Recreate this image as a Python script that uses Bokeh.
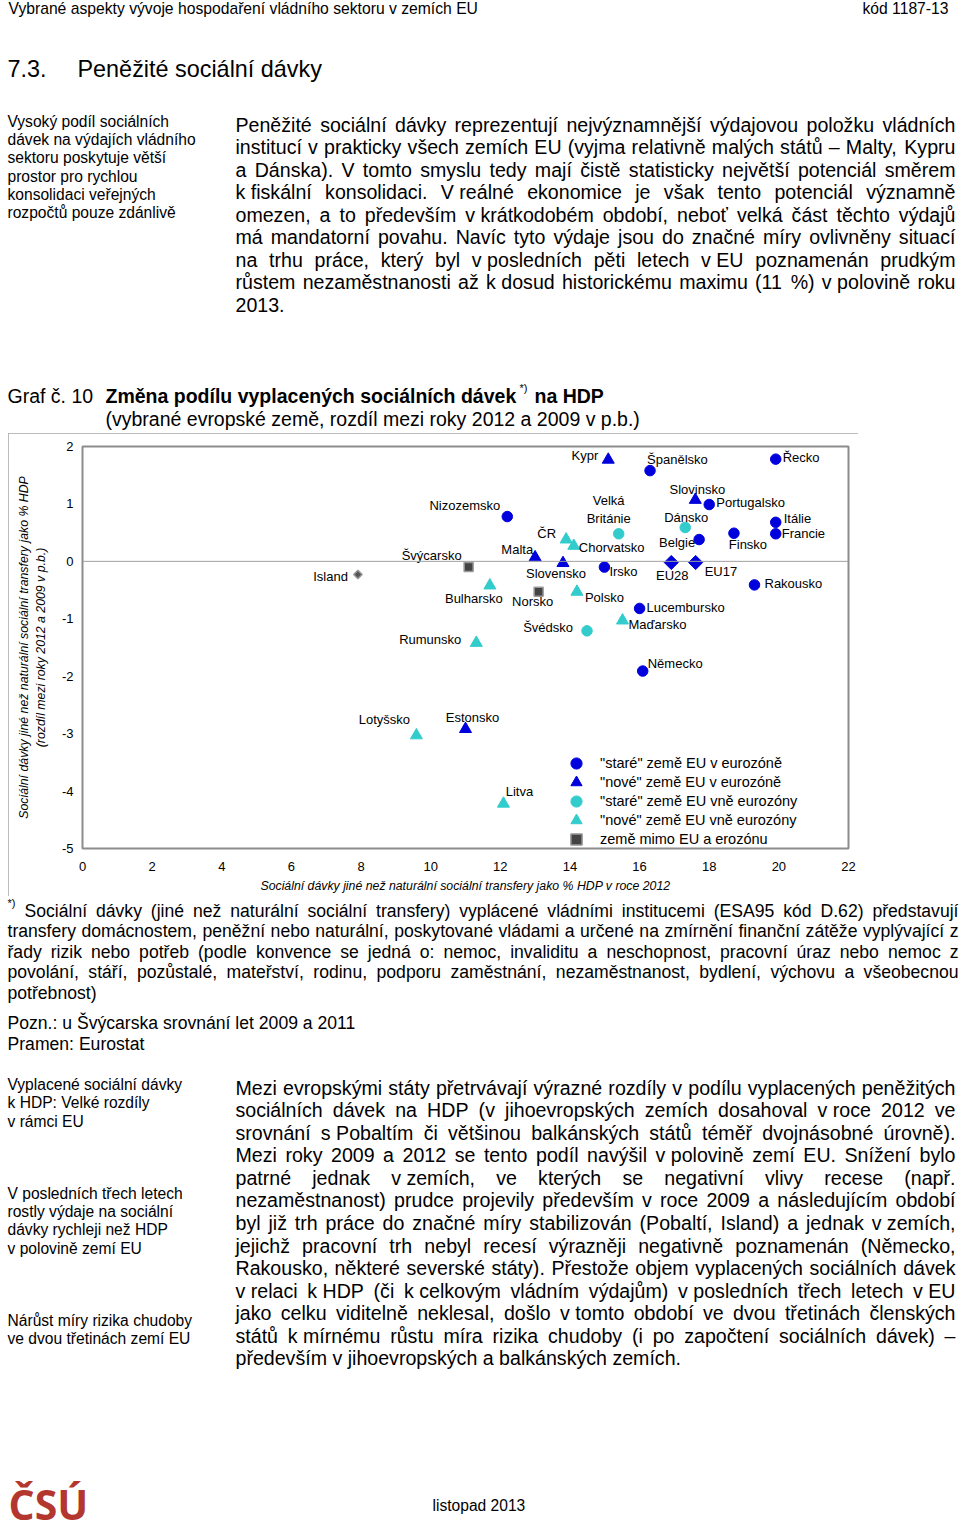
import math
import unicodedata
from bokeh.plotting import figure
from bokeh.models import Range1d, Span, Legend, LegendItem, PrintfTickFormatter
from bokeh.core.properties import value
from bokeh.embed import file_html
from bokeh.resources import INLINE

# ---------------- chart data ----------------
countries = ["Island", "Švýcarsko", "Nizozemsko", "Bulharsko", "Norsko", "ČR", "Chorvatsko",
             "Malta", "Slovensko", "Polsko", "Švédsko", "Rumunsko", "Kypr", "Španělsko",
             "Řecko", "Slovinsko", "Portugalsko", "Velká\nBritánie", "Dánsko", "Belgie",
             "Finsko", "Itálie", "Francie", "EU28", "EU17", "Irsko", "Rakousko",
             "Lucembursko", "Maďarsko", "Německo", "Lotyšsko", "Estonsko", "Litva"]
benefits_2012 = [7.91, 11.09, 12.20, 11.70, 13.10, 13.89, 14.11,
                 13.00, 13.80, 14.20, 14.49, 11.31, 15.10, 16.30,
                 19.91, 17.60, 18.00, 15.40, 17.31, 17.71,
                 18.71, 19.91, 19.91, 16.91, 17.61, 14.99, 19.30,
                 16.00, 15.51, 16.09, 9.59, 11.00, 12.09]
change_2009_2012 = [-0.23, -0.10, 0.78, -0.42, -0.53, 0.38, 0.27,
                    0.07, -0.03, -0.53, -1.21, -1.42, 1.77, 1.58,
                    1.78, 1.07, 0.99, 0.48, 0.59, 0.38,
                    0.49, 0.68, 0.48, -0.02, -0.02, -0.10, -0.41,
                    -0.82, -1.03, -1.91, -3.03, -2.92, -4.22]
groups = ["nonEU_d", "nonEU", "oldEZ", "newOut", "nonEU", "newOut", "newOut",
          "newEZ", "newEZ", "newOut", "oldOut", "newOut", "newEZ", "oldEZ",
          "oldEZ", "newEZ", "oldEZ", "oldOut", "oldOut", "oldEZ",
          "oldEZ", "oldEZ", "oldEZ", "EU", "EU", "oldEZ", "oldEZ",
          "oldEZ", "newOut", "oldEZ", "newOut", "newEZ", "newOut"]
legend_groups = ["oldEZ", "newEZ", "oldOut", "newOut", "nonEU"]
legend_labels = ['"staré" země EU v eurozóně', '"nové" země EU v eurozóně',
                 '"staré" země EU vně eurozóny', '"nové" země EU vně eurozóny',
                 'země mimo EU a erozónu']
x_ticks = [0, 2, 4, 6, 8, 10, 12, 14, 16, 18, 20, 22]
y_ticks = [-5, -4, -3, -2, -1, 0, 1, 2]
x_title = "Sociální dávky jiné než naturální sociální transfery jako % HDP v roce 2012"
y_title = ("Sociální dávky jiné než naturální sociální transfery jako % HDP\n"
           "(rozdíl mezi roky 2012 a 2009 v p.b.)")

# label placement (screen px offsets, alignment) - styling only
label_pos = {
    "Island": (-10, 2, "right"), "Švýcarsko": (-7, -12, "right"), "Nizozemsko": (-7, -11, "right"),
    "Bulharsko": (-16, 13, "center"), "Norsko": (-6, 10, "center"), "ČR": (-10, -6, "right"),
    "Chorvatsko": (5, 2, "left"), "Malta": (-2, -8, "right"), "Slovensko": (-7, 10, "center"),
    "Polsko": (8, 6, "left"), "Švédsko": (-14, -3, "right"), "Rumunsko": (-15, -3, "right"),
    "Kypr": (-10, -4, "right"), "Španělsko": (-3, -11, "left"), "Řecko": (7, -2, "left"),
    "Slovinsko": (2, -10, "center"), "Portugalsko": (7, -2, "left"),
    "Velká\nBritánie": (-10, -24, "center"), "Dánsko": (1, -10, "center"),
    "Belgie": (-4, 3, "right"), "Finsko": (14, 11, "center"), "Itálie": (8, -4, "left"),
    "Francie": (6, 0, "left"), "EU28": (1, 13, "center"), "EU17": (9, 9, "left"),
    "Irsko": (5, 4, "left"), "Rakousko": (10, -1, "left"), "Lucembursko": (7, -1, "left"),
    "Maďarsko": (6, 4, "left"), "Německo": (5, -8, "left"), "Lotyšsko": (-32, -16, "center"),
    "Estonsko": (7, -12, "center"), "Litva": (16, -12, "center"),
}

BLUE = "#0000DD"
CYAN = "#33CCCC"
group_style = {
    "oldEZ": dict(marker="circle", size=10.5, fill_color=BLUE, line_color=BLUE, angle=0),
    "newEZ": dict(marker="triangle", size=12, fill_color=BLUE, line_color=BLUE, angle=0),
    "oldOut": dict(marker="circle", size=10.5, fill_color=CYAN, line_color=CYAN, angle=0),
    "newOut": dict(marker="triangle", size=12, fill_color=CYAN, line_color=CYAN, angle=0),
    "nonEU": dict(marker="square", size=9, fill_color="#444444", line_color="#999999", angle=0),
    "nonEU_d": dict(marker="square", size=6, fill_color="#555555", line_color="#999999", angle=math.pi / 4),
    "EU": dict(marker="square", size=10, fill_color=BLUE, line_color=BLUE, angle=math.pi / 4),
}

FONT_NAME = "Liberation Sans"
FONT = value(FONT_NAME)

# ---------------- text metrics (Arial-compatible) ----------------
_REG = {' ': 278, '!': 278, '"': 355, '%': 889, '(': 333, ')': 333, '*': 389, ',': 278, '-': 333,
        '.': 278, '/': 278, ':': 278, ';': 278, '–': 556, '\u00a0': 278}
for d in "0123456789":
    _REG[d] = 556
_REG.update(dict(zip("ABCDEFGHIJKLMNOPQRSTUVWXYZ",
                     [667, 667, 722, 722, 667, 611, 778, 722, 278, 500, 667, 556, 833, 722, 778, 667,
                      778, 722, 667, 611, 722, 667, 944, 667, 667, 611])))
_REG.update(dict(zip("abcdefghijklmnopqrstuvwxyz",
                     [556, 556, 500, 556, 556, 278, 556, 556, 222, 222, 500, 222, 833, 556, 556, 556,
                      556, 333, 500, 278, 556, 500, 722, 500, 500, 500])))
_SPECIAL = {'í': 278, 'Í': 278, 'ť': 375, 'ď': 615}


def em(s):
    tot = 0
    for ch in s:
        if ch in _SPECIAL:
            tot += _SPECIAL[ch]
            continue
        if ch in _REG:
            tot += _REG[ch]
            continue
        base = unicodedata.normalize("NFD", ch)[0]
        tot += _REG.get(base, 556)
    return tot / 1000.0


def text_fig(y_top, y_bot):
    f = figure(width=960, height=int(y_bot - y_top), x_range=Range1d(0, 960),
               y_range=Range1d(y_bot, y_top), x_axis_type=None, y_axis_type=None,
               toolbar_location=None, output_backend="svg", min_border=0, title=None)
    f.outline_line_color = None
    f.background_fill_color = "white"
    f.border_fill_color = "white"
    return f


def put(f, xs, ys, texts, size, align="left", style="normal", color="black", font=FONT,
        baseline="middle"):
    f.text(x=list(xs), y=list(ys), text=list(texts), text_font=font,
           text_font_size=f"{size:.1f}px", text_font_style=style, text_align=align,
           text_baseline=baseline, text_color=color)


def block(f, x0, y0, dy, lines, size, **kw):
    put(f, [x0] * len(lines), [y0 + i * dy for i in range(len(lines))], lines, size, **kw)


def justified(f, lines, x0s, x1, y0, dy, target):
    fs = target
    for i, line in enumerate(lines[:-1]):
        words = line.split(" ")
        need = sum(em(w) for w in words) + 0.2 * (len(words) - 1)
        fs = min(fs, (x1 - x0s[i]) / need)
    xs, ys, ts = [], [], []
    for i, line in enumerate(lines):
        words = line.split(" ")
        widths = [em(w) * fs for w in words]
        if i == len(lines) - 1 or len(words) == 1:
            gap = 0.278 * fs
        else:
            gap = (x1 - x0s[i] - sum(widths)) / (len(words) - 1)
        x = x0s[i]
        for w, wd in zip(words, widths):
            xs.append(x)
            ys.append(y0 + i * dy)
            ts.append(w)
            x += wd + gap
    put(f, xs, ys, ts, fs)


# ---------------- page header ----------------
hdr = text_fig(0, 433)
h_line = "Vybrané aspekty vývoje hospodaření vládního sektoru v zemích EU"
fs_h = 469 / em(h_line)
put(hdr, [8], [7.5], [h_line], fs_h)
put(hdr, [948], [7.5], ["kód 1187-13"], fs_h, align="right")
fs_t = 245 / em("Peněžité sociální dávky")
put(hdr, [7, 77], [68, 68], ["7.3.", "Peněžité sociální dávky"], fs_t)

fs_side = 162 / em("Vysoký podíl sociálních")
block(hdr, 7, 121, 18.2, ["Vysoký podíl sociálních", "dávek na výdajích vládního",
                          "sektoru poskytuje větší", "prostor pro rychlou",
                          "konsolidaci veřejných", "rozpočtů pouze zdánlivě"], fs_side)

para1 = [
    "Peněžité sociální dávky reprezentují nejvýznamnější výdajovou položku vládních",
    "institucí v prakticky všech zemích EU (vyjma relativně malých států – Malty, Kypru",
    "a Dánska). V tomto smyslu tedy mají čistě statisticky největší potenciál směrem",
    "k\u00a0fiskální konsolidaci. V\u00a0reálné ekonomice je však tento potenciál významně",
    "omezen, a to především v\u00a0krátkodobém období, neboť velká část těchto výdajů",
    "má mandatorní povahu. Navíc tyto výdaje jsou do značné míry ovlivněny situací",
    "na trhu práce, který byl v\u00a0posledních pěti letech v\u00a0EU poznamenán prudkým",
    "růstem nezaměstnanosti až k\u00a0dosud historickému maximu (11 %) v\u00a0polovině roku",
    "2013.",
]
justified(hdr, para1, [235] * len(para1), 955, 124, 22.5, 19.6)

put(hdr, [7], [395], ["Graf č. 10"], 19.5)
put(hdr, [105], [395], ["Změna podílu vyplacených sociálních dávek"], 19.5, style="bold")
put(hdr, [519], [387], ["*)"], 11)
put(hdr, [534], [395], ["na HDP"], 19.5, style="bold")
put(hdr, [105], [418], ["(vybrané evropské země, rozdíl mezi roky 2012 a 2009 v p.b.)"], 19.5)

# ---------------- chart ----------------
p = figure(width=850, height=463, x_range=Range1d(0, 22), y_range=Range1d(-5, 2),
           toolbar_location=None, output_backend="svg", title=None,
           min_border_left=74, min_border_right=10, min_border_top=13, min_border_bottom=48)
p.styles = {"margin-left": "8px", "outline": "1px solid #A6A6A6", "outline-offset": "-1px"}
p.xgrid.visible = False
p.ygrid.visible = False
p.outline_line_color = "#8C8C8C"
p.outline_line_width = 2
p.xaxis.ticker = x_ticks
p.yaxis.ticker = y_ticks
p.yaxis.formatter = PrintfTickFormatter(format="%d")
p.xaxis.formatter = PrintfTickFormatter(format="%d")
for ax in (p.xaxis, p.yaxis):
    ax.axis_line_color = None
    ax.major_tick_line_color = None
    ax.minor_tick_line_color = None
    ax.major_tick_out = 0
    ax.major_tick_in = 0
    ax.major_label_text_font = FONT_NAME
    ax.major_label_text_font_size = "13px"
    ax.major_label_text_color = "black"
    ax.axis_label_text_font = FONT_NAME
    ax.axis_label_text_font_size = "12.3px"
    ax.axis_label_text_font_style = "italic"
    ax.axis_label_text_color = "black"
p.xaxis.major_label_standoff = 13
p.xaxis.axis_label_standoff = 5
p.yaxis.major_label_standoff = 9
p.yaxis.axis_label_standoff = 11
p.xaxis.axis_label = x_title
p.yaxis.axis_label = y_title

p.add_layout(Span(location=0, dimension="width", line_color="#A0A0A0", line_width=1))

renderers = {}
for g, st in group_style.items():
    idx = [i for i, gg in enumerate(groups) if gg == g]
    renderers[g] = p.scatter(x=[benefits_2012[i] for i in idx], y=[change_2009_2012[i] for i in idx],
                             marker=st["marker"], size=st["size"], angle=st["angle"],
                             fill_color=st["fill_color"], line_color=st["line_color"],
                             line_width=1.5 if g.startswith("nonEU") else 1)

for align in ("left", "center", "right"):
    idx = [i for i, c in enumerate(countries) if label_pos[c][2] == align]
    p.text(x=[benefits_2012[i] for i in idx], y=[change_2009_2012[i] for i in idx],
           text=[countries[i] for i in idx],
           x_offset=[label_pos[countries[i]][0] for i in idx],
           y_offset=[label_pos[countries[i]][1] for i in idx],
           text_font=FONT, text_font_size="13px", text_align=align, text_baseline="middle",
           text_color="black")

# one single-item legend per row so rows can sit 19 px apart with full-size glyphs
for k, (g, lab) in enumerate(zip(legend_groups, legend_labels)):
    row_center = 85.5 - 19 * k
    lg = Legend(items=[LegendItem(label=lab, renderers=[renderers[g]])],
                location=(480, row_center - 14), orientation="vertical", padding=0, margin=0,
                spacing=0, glyph_width=28, glyph_height=28, label_height=28, label_standoff=10,
                label_text_font=FONT_NAME, label_text_font_size="14.5px", label_text_color="black",
                border_line_color=None, background_fill_alpha=0)
    p.add_layout(lg)

# ---------------- page footer ----------------
ftr = text_fig(896, 1530)
put(ftr, [7], [902], ["*)"], 11)
foot = [
    "Sociální dávky (jiné než naturální sociální transfery) vyplácené vládními institucemi (ESA95 kód D.62) představují",
    "transfery domácnostem, peněžní nebo naturální, poskytované vládami a určené na zmírnění finanční zátěže vyplývající z",
    "řady rizik nebo potřeb (podle konvence se jedná o: nemoc, invaliditu a neschopnost, pracovní úraz nebo nemoc z",
    "povolání, stáří, pozůstalé, mateřství, rodinu, podporu zaměstnání, nezaměstnanost, bydlení, výchovu a všeobecnou",
    "potřebnost)",
]
justified(ftr, foot, [24, 7, 7, 7, 7], 958, 910, 20.5, 17.6)
put(ftr, [7, 7], [1022, 1043], ["Pozn.: u Švýcarska srovnání let 2009 a 2011", "Pramen: Eurostat"], 17.6)

block(ftr, 7, 1084, 18.3, ["Vyplacené sociální dávky", "k HDP: Velké rozdíly", "v rámci EU"], fs_side)
block(ftr, 7, 1193, 18.2, ["V posledních třech letech", "rostly výdaje na sociální",
                           "dávky rychleji než HDP", "v polovině zemí EU"], fs_side)
block(ftr, 7, 1320, 18.2, ["Nárůst míry rizika chudoby", "ve dvou třetinách zemí EU"], fs_side)

para2 = [
    "Mezi evropskými státy přetrvávají výrazné rozdíly v podílu vyplacených peněžitých",
    "sociálních dávek na HDP (v jihoevropských zemích dosahoval v\u00a0roce 2012 ve",
    "srovnání s\u00a0Pobaltím či většinou balkánských států téměř dvojnásobné úrovně).",
    "Mezi roky 2009 a 2012 se tento podíl navýšil v\u00a0polovině zemí EU. Snížení bylo",
    "patrné jednak v\u00a0zemích, ve kterých se negativní vlivy recese (např.",
    "nezaměstnanost) prudce projevily především v roce 2009 a následujícím období",
    "byl již trh práce do značné míry stabilizován (Pobaltí, Island) a jednak v\u00a0zemích,",
    "jejichž pracovní trh nebyl recesí výrazněji negativně poznamenán (Německo,",
    "Rakousko, některé severské státy). Přestože objem vyplacených sociálních dávek",
    "v\u00a0relaci k\u00a0HDP (či k\u00a0celkovým vládním výdajům) v\u00a0posledních třech letech v\u00a0EU",
    "jako celku viditelně neklesal, došlo v\u00a0tomto období ve dvou třetinách členských",
    "států k\u00a0mírnému růstu míra rizika chudoby (i po započtení sociálních dávek) –",
    "především v\u00a0jihoevropských a balkánských zemích.",
]
justified(ftr, para2, [235] * len(para2), 955, 1087, 22.58, 19.6)

put(ftr, [8], [1503], ["ČSÚ"], 41, style="bold", color="#B3372E", font=value("Open Sans"))
put(ftr, [432], [1505], ["listopad  2013"], 15.6)

open("out.html", "w").write(file_html([hdr, p, ftr], INLINE))
